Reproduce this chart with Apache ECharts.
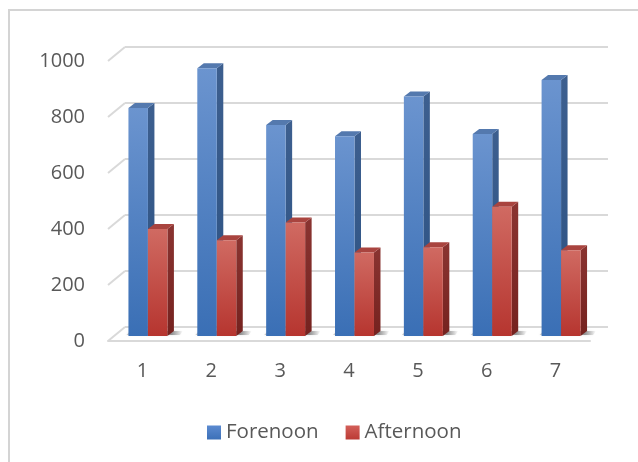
<!DOCTYPE html>
<html>
<head>
<meta charset="utf-8">
<script src="https://cdn.jsdelivr.net/npm/echarts@6/dist/echarts.min.js"></script>
<style>
  html, body { margin: 0; padding: 0; background: #ffffff; }
  #chart { width: 638px; height: 462px; }
</style>
</head>
<body>
<div id="chart"></div>
<script>
// Sessions and counts per session
const categories = ['1', '2', '3', '4', '5', '6', '7'];
const forenoon = [814, 956, 754, 713, 855, 721, 914];
const afternoon = [382, 342, 405, 298, 317, 462, 306];
const yTicks = [0, 200, 400, 600, 800, 1000];

// Oblique projection: back wall offset and bar depth offsets (pixels)
const WALL_DX = 17, WALL_DY = -14;
const BAR_OX = 5.5, BAR_OY = -5;      // bars sit a little behind the front plane
const DEPTH_DX = 6.5, DEPTH_DY = -5;  // visible depth of each column
const BAR_FRAC = 0.283;                // column width as a share of the category band

const FONT = 'Open Sans';
const TEXT = '#595959';
const GRID = '#d9d9d9';

const lg = (c0, c1) => new echarts.graphic.LinearGradient(0, 0, 0, 1, [
  { offset: 0, color: c0 }, { offset: 1, color: c1 }
]);

const palette = {
  blue: { front: lg('#6b94cf', '#3a6fb5'), side: lg('#3d5f8f', '#2c5283'), top: '#5479ae' },
  red:  { front: lg('#d06a62', '#b6352f'), side: lg('#8a3431', '#75221f'), top: '#a9443f' }
};

function columnRenderer(colors, slot) {
  return function (params, api) {
    const i = api.value(0);
    const v = api.value(1);
    const top = api.coord([i, v]);
    const base = api.coord([i, 0]);
    const band = api.size([1, 0])[0];
    const w = band * BAR_FRAC;
    const x0 = top[0] + BAR_OX + (slot === 0 ? -w : 0);
    const yt = top[1] + BAR_OY;
    const yb = base[1] + BAR_OY;
    const x1 = x0 + w;
    return {
      type: 'group',
      children: [
        {
          type: 'polygon',
          shape: { points: [[x1, yt], [x1 + DEPTH_DX, yt + DEPTH_DY], [x1 + DEPTH_DX, yb + DEPTH_DY], [x1, yb]] },
          style: { fill: colors.side }
        },
        {
          type: 'polygon',
          shape: { points: [[x0, yt], [x0 + DEPTH_DX, yt + DEPTH_DY], [x1 + DEPTH_DX, yt + DEPTH_DY], [x1, yt]] },
          style: { fill: colors.top }
        },
        {
          type: 'rect',
          shape: { x: x0, y: yt, width: w, height: yb - yt },
          style: { fill: colors.front }
        }
      ]
    };
  };
}

// Soft shadow cast on the floor by each pair of columns
function shadowRenderer(params, api) {
  const i = api.value(0);
  const base = api.coord([i, 0]);
  const band = api.size([1, 0])[0];
  const w = band * BAR_FRAC;
  const xl = base[0] + BAR_OX - w - 2;
  const xr = base[0] + BAR_OX + w + DEPTH_DX + 9;
  const yb = base[1] + BAR_OY;
  return {
    type: 'polygon',
    shape: { points: [[xl, yb - 1], [xl + 4, yb - 5], [xr, yb - 5], [xr - 3, yb - 1]] },
    style: {
      fill: new echarts.graphic.LinearGradient(0, 0, 1, 0, [
        { offset: 0, color: 'rgba(60,60,60,0.25)' },
        { offset: 0.8, color: 'rgba(40,40,40,0.45)' },
        { offset: 1, color: 'rgba(40,40,40,0)' }
      ]),
      shadowBlur: 3, shadowColor: 'rgba(60,60,60,0.35)'
    }
  };
}

// Diagonal gridline stubs on the left wall
function wallRenderer(params, api) {
  const y = api.coord([0, api.value(1)])[1];
  const x = params.coordSys.x;
  return {
    type: 'line',
    shape: { x1: x, y1: y, x2: x + WALL_DX, y2: y + WALL_DY },
    style: { stroke: GRID, lineWidth: 2 }
  };
}

const chart = echarts.init(document.getElementById('chart'), null, { renderer: 'canvas' });

chart.setOption({
  backgroundColor: '#ffffff',
  animation: false,
  textStyle: { fontFamily: FONT },
  graphic: [
    { type: 'line', shape: { x1: 8, y1: 10, x2: 638, y2: 10 }, style: { stroke: '#d4d4d4', lineWidth: 2 }, silent: true },
    { type: 'line', shape: { x1: 9, y1: 10, x2: 9, y2: 462 }, style: { stroke: '#d4d4d4', lineWidth: 2 }, silent: true }
  ],
  legend: {
    data: ['Forenoon', 'Afternoon'],
    top: 417,
    left: 202,
    icon: 'rect',
    itemWidth: 14,
    itemHeight: 14,
    itemGap: 27,
    textStyle: { fontFamily: FONT, fontSize: 20.5, color: TEXT }
  },
  grid: [
    { left: 108, top: 61, width: 482, height: 280 },               // front plane
    { left: 108 + WALL_DX, top: 61 + WALL_DY, width: 483, height: 280 } // back wall
  ],
  xAxis: [
    {
      gridIndex: 0, type: 'category', data: categories,
      axisLine: { show: true, lineStyle: { color: GRID, width: 2 } },
      axisTick: { show: false },
      axisLabel: { fontFamily: FONT, fontSize: 20, color: TEXT, margin: 20 }
    },
    {
      gridIndex: 1, type: 'category', data: categories, show: false
    }
  ],
  yAxis: [
    {
      gridIndex: 0, type: 'value', min: 0, max: 1000, interval: 200,
      axisLine: { show: false }, axisTick: { show: false }, splitLine: { show: false },
      axisLabel: { fontFamily: FONT, fontSize: 20, color: TEXT, margin: 23, formatter: v => String(v) }
    },
    {
      gridIndex: 1, type: 'value', min: 0, max: 1000, interval: 200,
      axisLine: { show: false }, axisTick: { show: false }, axisLabel: { show: false },
      splitLine: { show: true, lineStyle: { color: GRID, width: 2 } }
    }
  ],
  series: [
    {
      type: 'custom', xAxisIndex: 0, yAxisIndex: 0, silent: true,
      renderItem: wallRenderer,
      data: yTicks.map(v => [0, v]),
      z: 1
    },
    {
      type: 'custom', xAxisIndex: 0, yAxisIndex: 0, silent: true,
      renderItem: shadowRenderer,
      data: categories.map((c, i) => [i, 0]),
      z: 2
    },
    {
      name: 'Forenoon', type: 'custom', xAxisIndex: 0, yAxisIndex: 0,
      itemStyle: { color: lg('#5b8ad0', '#3c70b8') },
      renderItem: columnRenderer(palette.blue, 0),
      encode: { x: 0, y: 1 },
      data: forenoon.map((v, i) => [i, v]),
      z: 3
    },
    {
      name: 'Afternoon', type: 'custom', xAxisIndex: 0, yAxisIndex: 0,
      itemStyle: { color: lg('#d35f59', '#bb3b35') },
      renderItem: columnRenderer(palette.red, 1),
      encode: { x: 0, y: 1 },
      data: afternoon.map((v, i) => [i, v]),
      z: 4
    }
  ]
});
</script>
</body>
</html>
